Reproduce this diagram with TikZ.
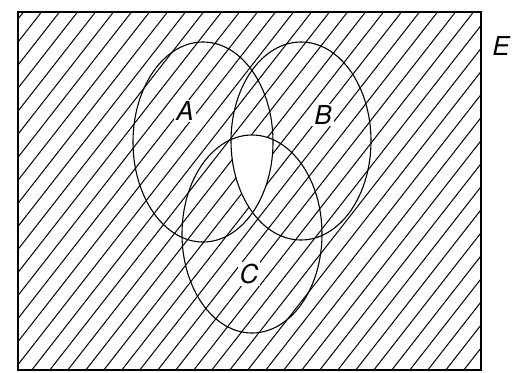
\documentclass[tikz,border=0pt]{standalone}
\usepackage{fontspec}
\setsansfont{TeX Gyre Heros}
\usetikzlibrary{positioning}

\tikzset{
  setlabel/.style={font=\sffamily\itshape\fontsize{26}{28}\selectfont, inner sep=2pt},
  hatchline/.style={line width=1pt},
  outline/.style={line width=1.1pt}
}

\begin{document}
\begin{tikzpicture}[x=1pt,y=-1pt]
\useasboundingbox (0,0) rectangle (513,372);
\coordinate (cA) at (203,142);
\coordinate (cB) at (301,141);
\coordinate (cC) at (252,234);
% hatching over E
\begin{scope}
\clip (18,12) rectangle (481,370);
\foreach \i in {-300,-282,...,500}
  \draw[hatchline] (\i,380) -- ++(300,-384);
\end{scope}
% A, B and C together stay blank
\begin{scope}
\clip (cA) ellipse [x radius=70, y radius=100];
\clip (cB) ellipse [x radius=70, y radius=99];
\fill[white] (cC) ellipse [x radius=70, y radius=99];
\end{scope}
\draw[outline] (18,12) rectangle (481,370);
\draw[outline] (cA) ellipse [x radius=70, y radius=100];
\draw[outline] (cB) ellipse [x radius=70, y radius=99];
\draw[outline] (cC) ellipse [x radius=70, y radius=99];
\node[setlabel, fill=white] (labA) at (185,111) {A};
\node[setlabel, fill=white] (labB) at (323,115) {B};
\node[setlabel, fill=white] (labC) at (249,274) {C};
\node[setlabel] (labE) at (501,46) {E};
\end{tikzpicture}
\end{document}
